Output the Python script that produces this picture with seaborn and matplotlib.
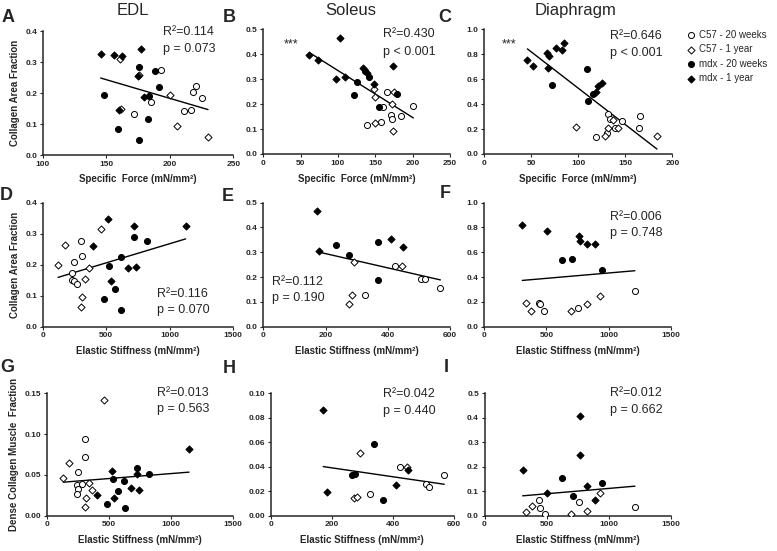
import matplotlib
matplotlib.use("Agg")
import matplotlib.pyplot as plt
import seaborn as sns

# group names / marker styles (legend order)
groups = ["C57 - 20 weeks", "C57 - 1 year", "mdx - 20 weeks", "mdx - 1 year"]
group_marker = {"C57 - 20 weeks": "o", "C57 - 1 year": "D",
                "mdx - 20 weeks": "o", "mdx - 1 year": "D"}
group_face = {"C57 - 20 weeks": "white", "C57 - 1 year": "white",
              "mdx - 20 weeks": "black", "mdx - 1 year": "black"}

# ---- A: EDL, specific force vs collagen area fraction
A_c57_20w = [(193.4, 0.275), (171.9, 0.132), (185.2, 0.170), (220.6, 0.224),
             (218.0, 0.205), (225.6, 0.185), (211.5, 0.143), (216.4, 0.147)]
A_c57_1y = [(161.1, 0.312), (176.1, 0.260), (161.4, 0.150), (199.9, 0.195),
            (205.4, 0.093), (230.1, 0.059)]
A_mdx_20w = [(148.5, 0.193), (175.5, 0.286), (188.1, 0.273), (191.8, 0.221),
             (159.5, 0.085), (182.6, 0.118), (175.5, 0.049), (183.5, 0.192)]
A_mdx_1y = [(145.6, 0.326), (156.4, 0.323), (162.2, 0.321), (177.4, 0.343),
            (174.7, 0.257), (160.3, 0.146), (179.7, 0.188)]

# ---- B: Soleus, specific force
B_c57_20w = [(165.6, 0.247), (160.7, 0.190), (200.9, 0.193), (184.8, 0.152),
             (138.4, 0.115), (158.0, 0.128), (171.0, 0.155), (172.8, 0.139)]
B_c57_1y = [(148.2, 0.262), (150.0, 0.229), (175.0, 0.247), (172.8, 0.199),
            (150.0, 0.126), (173.2, 0.092)]
B_mdx_20w = [(125.4, 0.290), (121.0, 0.235), (136.2, 0.333), (141.5, 0.310),
             (155.4, 0.187), (179.0, 0.239)]
B_mdx_1y = [(61.6, 0.397), (73.7, 0.377), (102.7, 0.467), (97.3, 0.302),
            (109.8, 0.307), (173.2, 0.354), (133.9, 0.344), (139.3, 0.324),
            (148.2, 0.279)]

# ---- C: Diaphragm, specific force
C_c57_20w = [(131.4, 0.321), (133.8, 0.278), (165.7, 0.305), (164.3, 0.209),
             (118.6, 0.139), (131.0, 0.166), (139.1, 0.209), (146.2, 0.262)]
C_c57_1y = [(98.1, 0.214), (136.7, 0.273), (132.1, 0.211), (142.7, 0.206),
            (128.2, 0.144), (183.7, 0.142)]
C_mdx_20w = [(72.6, 0.553), (109.1, 0.679), (110.8, 0.428), (115.8, 0.479)]
C_mdx_1y = [(46.1, 0.754), (51.8, 0.709), (67.0, 0.807), (69.2, 0.786),
            (76.2, 0.853), (82.9, 0.834), (84.7, 0.888), (68.0, 0.687),
            (121.5, 0.548), (125.3, 0.567), (119.3, 0.497)]

# ---- D: EDL, elastic stiffness vs collagen area fraction
D_c57_20w = [(302, 0.278), (309, 0.229), (247, 0.208), (233, 0.174),
             (233, 0.150), (247, 0.148), (273, 0.138)]
D_c57_1y = [(456, 0.315), (176, 0.265), (121, 0.199), (367, 0.188),
            (330, 0.153), (312, 0.096), (302, 0.062)]
D_mdx_20w = [(721, 0.290), (821, 0.275), (614, 0.225), (524, 0.196),
             (572, 0.120), (483, 0.088), (616, 0.054)]
D_mdx_1y = [(517, 0.346), (718, 0.325), (1125, 0.326), (393, 0.260),
            (669, 0.188), (734, 0.194), (538, 0.148)]

# ---- E: Soleus, elastic stiffness
E_c57_20w = [(424, 0.246), (506, 0.192), (519, 0.192), (569, 0.155), (327, 0.126)]
E_c57_1y = [(292, 0.259), (447, 0.246), (285, 0.126), (274, 0.091)]
E_mdx_20w = [(235, 0.331), (275, 0.288), (369, 0.343), (368, 0.188)]
E_mdx_1y = [(174, 0.468), (180, 0.306), (411, 0.355), (450, 0.321)]

# ---- F: Diaphragm, elastic stiffness
F_c57_20w = [(441, 0.188), (452, 0.185), (484, 0.124), (757, 0.148), (1210, 0.285)]
F_c57_1y = [(337, 0.194), (379, 0.124), (696, 0.126), (827, 0.183), (929, 0.250)]
F_mdx_20w = [(623, 0.535), (709, 0.546), (945, 0.460)]
F_mdx_1y = [(307, 0.823), (503, 0.769), (762, 0.734), (768, 0.691),
            (827, 0.664), (888, 0.669)]

# ---- G: EDL, elastic stiffness vs dense collagen fraction
G_c57_20w = [(311, 0.094), (305, 0.072), (254, 0.053), (241, 0.038),
             (249, 0.033), (246, 0.027), (287, 0.039)]
G_c57_1y = [(461, 0.142), (182, 0.065), (134, 0.046), (340, 0.040),
            (367, 0.031), (316, 0.022), (308, 0.011)]
G_mdx_20w = [(536, 0.045), (621, 0.042), (576, 0.030), (488, 0.014),
             (632, 0.010), (825, 0.051), (729, 0.059)]
G_mdx_1y = [(525, 0.055), (723, 0.051), (1144, 0.082), (678, 0.034),
            (745, 0.032), (544, 0.022), (402, 0.025)]

# ---- H: Soleus, dense collagen fraction
H_c57_20w = [(424, 0.0398), (509, 0.0256), (518, 0.0234), (568, 0.0330), (325, 0.0180)]
H_c57_1y = [(291, 0.0512), (445, 0.0398), (274, 0.0144), (284, 0.0150)]
H_mdx_20w = [(338, 0.0583), (367, 0.0131), (265, 0.0332), (276, 0.0341)]
H_mdx_1y = [(172, 0.0864), (184, 0.0191), (410, 0.0248), (449, 0.0371)]

# ---- I: Diaphragm, dense collagen fraction
I_c57_20w = [(441, 0.064), (449, 0.030), (484, 0.005), (757, 0.056), (1210, 0.035)]
I_c57_1y = [(337, 0.015), (382, 0.040), (696, 0.007), (827, 0.019), (929, 0.091)]
I_mdx_20w = [(623, 0.154), (709, 0.082), (945, 0.132)]
I_mdx_1y = [(307, 0.185), (500, 0.094), (765, 0.407), (768, 0.247),
            (827, 0.121), (886, 0.065)]

stats_text = {
    "A": ("R²=0.114", "p = 0.073"), "B": ("R²=0.430", "p < 0.001"),
    "C": ("R²=0.646", "p < 0.001"), "D": ("R²=0.116", "p = 0.070"),
    "E": ("R²=0.112", "p = 0.190"), "F": ("R²=0.006", "p = 0.748"),
    "G": ("R²=0.013", "p = 0.563"), "H": ("R²=0.042", "p = 0.440"),
    "I": ("R²=0.012", "p = 0.662"),
}

sns.set_style("ticks")
plt.rcParams["font.family"] = ["Liberation Sans", "DejaVu Sans"]

W, H = 777, 551
fig = plt.figure(figsize=(W / 100, H / 100), dpi=100)


def fx(x):
    return x / W


def fy(y):
    return 1 - y / H


def add_panel(l, t, r, b):
    return fig.add_axes([l / W, 1 - b / H, (r - l) / W, (b - t) / H])


def draw(ax, sets, xlim, xticks, ylim, yticks, yfmt, xlabel, ylabel=None):
    allx, ally = [], []
    for g, pts in zip(groups, sets):
        xs = [p[0] for p in pts]
        ys = [p[1] for p in pts]
        allx += xs
        ally += ys
        sns.scatterplot(x=xs, y=ys, marker=group_marker[g], color=group_face[g],
                        edgecolor="black", linewidth=0.7,
                        s=19 if group_marker[g] == "o" else 13,
                        ax=ax, label=g, legend=False, zorder=3)
    sns.regplot(x=allx, y=ally, scatter=False, ci=None, truncate=True,
                color="black", line_kws={"lw": 1.0}, ax=ax)
    ax.set_xlim(*xlim)
    ax.set_ylim(*ylim)
    ax.set_xticks(xticks)
    ax.set_yticks(yticks)
    ax.set_yticklabels([yfmt.format(v) for v in yticks])
    ax.set_xticklabels([str(v) for v in xticks])
    sns.despine(ax=ax)
    for s in ("left", "bottom"):
        ax.spines[s].set_linewidth(1.1)
    ax.tick_params(length=2.5, width=0.8, pad=1.5, labelsize=6)
    for lab in ax.get_xticklabels() + ax.get_yticklabels():
        lab.set_fontweight("bold")
    ax.set_xlabel(xlabel, fontsize=7, fontweight="bold", labelpad=5)
    ax.set_ylabel(ylabel if ylabel else "", fontsize=7, fontweight="bold", labelpad=4)


sf_label = "Specific  Force (mN/mm²)"
es_label = "Elastic Stiffness (mN/mm²)"

axA = add_panel(42.7, 31.3, 233.3, 155)
draw(axA, [A_c57_20w, A_c57_1y, A_mdx_20w, A_mdx_1y], (100, 250), [100, 150, 200, 250],
     (0, 0.4), [0, 0.1, 0.2, 0.3, 0.4], "{:.1f}", sf_label, "Collagen Area Fraction")
axB = add_panel(263.3, 29.3, 450, 154)
draw(axB, [B_c57_20w, B_c57_1y, B_mdx_20w, B_mdx_1y], (0, 250), [0, 50, 100, 150, 200, 250],
     (0, 0.5), [0, 0.1, 0.2, 0.3, 0.4, 0.5], "{:.1f}", sf_label)
axC = add_panel(484, 29.3, 672.3, 154)
draw(axC, [C_c57_20w, C_c57_1y, C_mdx_20w, C_mdx_1y], (0, 200), [0, 50, 100, 150, 200],
     (0, 1.0), [0, 0.2, 0.4, 0.6, 0.8, 1.0], "{:.1f}", sf_label)

axD = add_panel(42.7, 202.7, 233.3, 326.7)
draw(axD, [D_c57_20w, D_c57_1y, D_mdx_20w, D_mdx_1y], (0, 1500), [0, 500, 1000, 1500],
     (0, 0.4), [0, 0.1, 0.2, 0.3, 0.4], "{:.1f}", es_label, "Collagen Area Fraction")
axE = add_panel(263.3, 202.7, 450, 326.7)
draw(axE, [E_c57_20w, E_c57_1y, E_mdx_20w, E_mdx_1y], (0, 600), [0, 200, 400, 600],
     (0, 0.5), [0, 0.1, 0.2, 0.3, 0.4, 0.5], "{:.1f}", es_label)
axF = add_panel(484, 202.7, 671, 326.7)
draw(axF, [F_c57_20w, F_c57_1y, F_mdx_20w, F_mdx_1y], (0, 1500), [0, 500, 1000, 1500],
     (0, 1.0), [0, 0.2, 0.4, 0.6, 0.8, 1.0], "{:.1f}", es_label)

axG = add_panel(46.7, 393.3, 233.3, 515.7)
draw(axG, [G_c57_20w, G_c57_1y, G_mdx_20w, G_mdx_1y], (0, 1500), [0, 500, 1000, 1500],
     (0, 0.15), [0, 0.05, 0.10, 0.15], "{:.2f}", es_label, "Dense Collagen Muscle  Fraction")
axH = add_panel(270.7, 393.3, 454, 515.7)
draw(axH, [H_c57_20w, H_c57_1y, H_mdx_20w, H_mdx_1y], (0, 600), [0, 200, 400, 600],
     (0, 0.10), [0, 0.02, 0.04, 0.06, 0.08, 0.10], "{:.2f}", es_label)
axI = add_panel(484.5, 393.3, 671, 515.7)
draw(axI, [I_c57_20w, I_c57_1y, I_mdx_20w, I_mdx_1y], (0, 1500), [0, 500, 1000, 1500],
     (0, 0.5), [0, 0.1, 0.2, 0.3, 0.4, 0.5], "{:.1f}", es_label)

# column titles
for name, cx in [("EDL", 133), ("Soleus", 351), ("Diaphragm", 576)]:
    fig.text(fx(cx), fy(15), name, fontsize=12, ha="center", va="baseline")

# panel letters
letters = [("A", 2, 22), ("B", 223, 22), ("C", 438, 22),
           ("D", 0, 200), ("E", 222, 201), ("F", 440, 198),
           ("G", 0, 372), ("H", 223, 373), ("I", 444, 372)]
for let, lx, ly in letters:
    fig.text(fx(lx), fy(ly), let, fontsize=13, fontweight="bold", ha="left", va="baseline")

# R^2 / p annotations
stat_pos = {"A": (163, 32, 49), "B": (383, 34, 52), "C": (610, 36, 53),
            "D": (157, 294, 310), "E": (272, 282, 298), "F": (610, 217, 233),
            "G": (157, 393, 409), "H": (383, 394, 411), "I": (610, 393, 410)}
for key, (tx, y1, y2) in stat_pos.items():
    r2, p = stats_text[key]
    fig.text(fx(tx), fy(y1), r2, fontsize=9, ha="left", va="center")
    fig.text(fx(tx), fy(y2), p, fontsize=9, ha="left", va="center")

fig.text(fx(291), fy(44), "***", fontsize=9, ha="center", va="center")
fig.text(fx(509), fy(44), "***", fontsize=9, ha="center", va="center")

# legend
handles, labels = axC.get_legend_handles_labels()
fig.legend(handles[:4], labels[:4], loc="upper left",
           bbox_to_anchor=(fx(686.5), fy(30)), frameon=False, fontsize=7,
           handlelength=1.0, handletextpad=0.3, labelspacing=0.45,
           borderpad=0, borderaxespad=0)

fig.savefig("out.png", dpi=100)
